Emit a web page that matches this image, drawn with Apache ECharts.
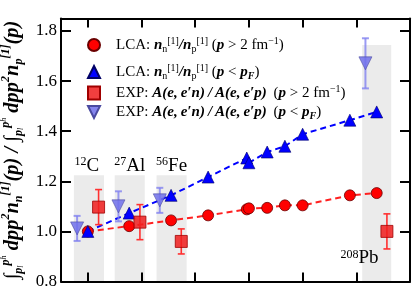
<!DOCTYPE html>
<html><head><meta charset="utf-8">
<script src="https://cdn.jsdelivr.net/npm/echarts@6/dist/echarts.min.js"></script>
<style>html,body{margin:0;padding:0;background:#fff}#c{width:419px;height:292px}</style>
</head><body><div id="c"></div>
<script>
// ---- data (x = N/Z) ----
const lcaNZ   = [1.000, 1.077, 1.155, 1.224, 1.296, 1.300, 1.334, 1.367, 1.400, 1.488, 1.538];
const lcaHigh = [1.000, 1.021, 1.044, 1.064, 1.088, 1.092, 1.094, 1.104, 1.104, 1.144, 1.153];
const lcaLow  = [1.000, 1.073, 1.144, 1.217, 1.293, 1.274, 1.317, 1.340, 1.388, 1.444, 1.477];

const expNZ      = [1.000, 1.077, 1.154, 1.537];
const expHigh    = [1.097, 1.037, 0.960, 1.000];
const expHighErr = [0.070, 0.070, 0.050, 0.070];
const expLow     = [1.012, 1.100, 1.124, 1.671];
const expLowErr  = [0.050, 0.060, 0.050, 0.100];
const expShift = 0.02;

const bandLow  = [0.974, 1.050, 1.128, 1.511];
const bandHigh = [1.030, 1.106, 1.184, 1.565];
const bandTop  = [1.224, 1.224, 1.224, 1.744];

const nucMass = ['12', '27', '56', '208'];
const nucSym  = ['C', 'Al', 'Fe', 'Pb'];
const nucLabX = [0.998, 1.078, 1.156, 1.506];
const nucLabY = [1.262, 1.262, 1.262, 0.892];

const xTicks = [1.0, 1.1, 1.2, 1.3, 1.4, 1.5];
const yTicks = [0.8, 1.0, 1.2, 1.4, 1.6, 1.8];

// ---- styles ----
const SERIF = '"Liberation Serif", "DejaVu Serif", serif';
const FS = 15;
const legRich = {
  g:  {width: 11},
  r:  {fontFamily: SERIF, fontSize: FS, color: '#000', lineHeight: 18},
  m:  {fontFamily: SERIF, fontSize: FS, fontStyle: 'italic', fontWeight: 'bold', color: '#000', lineHeight: 18},
  sp: {fontFamily: SERIF, fontSize: 10, color: '#000', verticalAlign: 'top', lineHeight: 10},
  sb: {fontFamily: SERIF, fontSize: 10, color: '#000', verticalAlign: 'bottom', lineHeight: 10},
  sbi:{fontFamily: SERIF, fontSize: 10, fontStyle: 'italic', fontWeight: 'bold', color: '#000', verticalAlign: 'bottom', lineHeight: 10}
};
const T = '\u2009';
const expMath = 'A(e,' + T + 'e′n)' + T + '/' + T + 'A(e,' + T + 'e′p)';
const legText = {
  L1: '{g|}{r|LCA: }{m|n}{sb|n}{sp|[1]}{m|/n}{sb|p}{sp|[1]}{r| (}{m|p}{r| > 2 fm}{sp|−1}{r|)}',
  L2: '{g|}{r|LCA: }{m|n}{sb|n}{sp|[1]}{m|/n}{sb|p}{sp|[1]}{r| (}{m|p}{r| < }{m|p}{sbi|F}{r|)}',
  L3: '{g|}{r|EXP: }{m|' + expMath + '}{r|' + T + ' (}{m|p}{r| > 2 fm}{sp|−1}{r|)}',
  L4: '{g|}{r|EXP: }{m|' + expMath + '}{r|' + T + ' (}{m|p}{r| < }{m|p}{sbi|F}{r|)}'
};

function errBar(color, width, cap) {
  return function (params, api) {
    const x = api.value(0), y = api.value(1), e = api.value(2);
    const a = api.coord([x, y + e]), b = api.coord([x, y - e]);
    const st = {stroke: color, lineWidth: width};
    return {type: 'group', children: [
      {type: 'line', shape: {x1: a[0], y1: a[1], x2: b[0], y2: b[1]}, style: st},
      {type: 'line', shape: {x1: a[0] - cap, y1: a[1], x2: a[0] + cap, y2: a[1]}, style: st},
      {type: 'line', shape: {x1: b[0] - cap, y1: b[1], x2: b[0] + cap, y2: b[1]}, style: st}
    ]};
  };
}

const chart = echarts.init(document.getElementById('c'), null, {renderer: 'canvas'});
const axisLine = {show: true, lineStyle: {color: '#000', width: 2}};
const opt = {
  animation: false,
  backgroundColor: '#fff',
  grid: {left: 61, right: 9, top: 18.5, bottom: 10.5, containLabel: false, outerBoundsMode: 'none'},
  xAxis: [
    {type: 'value', min: 0.95, max: 1.6, position: 'bottom', axisLine,
     axisTick: {inside: true, length: 9, lineStyle: {color: '#000', width: 2}, customValues: xTicks},
     axisLabel: {show: true, customValues: xTicks, margin: 11, fontFamily: SERIF, fontSize: 17, color: '#c8c8c8',
                 formatter: v => v.toFixed(1)},
     splitLine: {show: false}},
    {type: 'value', min: 0.95, max: 1.6, position: 'top', axisLine,
     axisTick: {inside: true, length: 9, lineStyle: {color: '#000', width: 2}, customValues: xTicks},
     axisLabel: {show: false}, splitLine: {show: false}}
  ],
  yAxis: [
    {type: 'value', min: 0.8, max: 1.85, position: 'left', axisLine,
     axisTick: {inside: true, length: 10, lineStyle: {color: '#000', width: 2}, customValues: yTicks},
     axisLabel: {customValues: yTicks, margin: 4, fontFamily: SERIF, fontSize: 17, color: '#000',
                 formatter: v => v.toFixed(1)},
     splitLine: {show: false},
     name: '{m|∫}{sb|p}{sbs|l}{sp|p}{sps|h}{m| dpp}{sp|2}{m|n}{sb|n}{sp|[1]}{m|(p) / ∫}{sb|p}{sbs|l}{sp|p}{sps|h}{m| dpp}{sp|2}{m|n}{sb|p}{sp|[1]}{m|(p)}',
     nameLocation: 'middle', nameRotate: 90, nameGap: 35,
     nameTextStyle: {rich: {
       m:  {fontFamily: SERIF, fontSize: 20.5, fontStyle: 'italic', fontWeight: 'bold', color: '#000', lineHeight: 25},
       sp: {fontFamily: SERIF, fontSize: 12, fontStyle: 'italic', fontWeight: 'bold', color: '#000', verticalAlign: 'top', lineHeight: 12},
       sb: {fontFamily: SERIF, fontSize: 12, fontStyle: 'italic', fontWeight: 'bold', color: '#000', verticalAlign: 'bottom', lineHeight: 12},
       sps:{fontFamily: SERIF, fontSize: 8, fontStyle: 'italic', color: '#000', verticalAlign: 'top', lineHeight: 14},
       sbs:{fontFamily: SERIF, fontSize: 8, fontStyle: 'italic', color: '#000', verticalAlign: 'bottom', lineHeight: 8}
     }}},
    {type: 'value', min: 0.8, max: 1.85, position: 'right', axisLine,
     axisTick: {inside: true, length: 10, lineStyle: {color: '#000', width: 2}, customValues: yTicks},
     axisLabel: {show: false}, splitLine: {show: false}}
  ],
  legend: [
    {orient: 'vertical', left: 82, top: 31, itemWidth: 12, itemHeight: 12, itemGap: 9,
     data: [{name: 'L1', icon: 'circle'}, {name: 'L2', icon: 'triangle'}],
     formatter: n => legText[n], textStyle: {rich: legRich}, selectedMode: false},
    {orient: 'vertical', left: 82, top: 79, itemWidth: 12, itemHeight: 13, itemGap: 4,
     data: [{name: 'L3', icon: 'rect'}, {name: 'L4', icon: 'path://M0,0L10,0L5,10Z'}],
     formatter: n => legText[n], textStyle: {rich: legRich}, selectedMode: false}
  ],
  series: [
    {type: 'custom', z: 0, silent: true,
     data: bandLow.map((lo, i) => [lo, bandHigh[i], bandTop[i]]),
     renderItem: (params, api) => {
       const a = api.coord([api.value(0), api.value(2)]);
       const b = api.coord([api.value(1), 0.8]);
       return {type: 'rect', shape: {x: a[0], y: a[1], width: b[0] - a[0], height: b[1] - a[1]},
               style: {fill: '#ebebeb'}};
     }},
    {name: 'L1', type: 'line', z: 3, data: lcaNZ.map((x, i) => [x, lcaHigh[i]]),
     symbol: 'circle', symbolSize: 11, showAllSymbol: true,
     itemStyle: {color: '#ff0000', borderColor: '#6a0000', borderWidth: 0.8, opacity: 1},
     lineStyle: {color: '#ff2020', width: 2, type: [6, 4]}},
    {name: 'L2', type: 'line', z: 3, data: lcaNZ.map((x, i) => [x, lcaLow[i]]),
     symbol: 'triangle', symbolSize: 12, showAllSymbol: true,
     itemStyle: {color: '#0000ff', borderColor: '#000066', borderWidth: 0.6, opacity: 1},
     lineStyle: {color: '#0000ff', width: 2, type: [6, 4]}},
    {type: 'custom', z: 4, silent: true,
     data: expNZ.map((x, i) => [x + expShift, expHigh[i], expHighErr[i]]),
     renderItem: errBar('#ff3030', 1.6, 3.5)},
    {name: 'L3', type: 'scatter', z: 5, data: expNZ.map((x, i) => [x + expShift, expHigh[i]]),
     symbol: 'rect', symbolSize: 12,
     itemStyle: {color: 'rgba(240,32,32,0.86)', borderColor: '#a00000', borderWidth: 0.8, opacity: 1}},
    {type: 'custom', z: 4, silent: true,
     data: expNZ.map((x, i) => [x - expShift, expLow[i], expLowErr[i]]),
     renderItem: errBar('rgba(130,130,240,0.8)', 2, 3.5)},
    {name: 'L4', type: 'scatter', z: 5, data: expNZ.map((x, i) => [x - expShift, expLow[i]]),
     symbol: 'triangle', symbolRotate: 180, symbolSize: 13,
     itemStyle: {color: 'rgba(112,112,235,0.85)', borderColor: '#4a4aa0', borderWidth: 0.6, opacity: 1}},
    {type: 'scatter', z: 6, silent: true, symbolSize: 0, itemStyle: {opacity: 1},
     data: nucLabX.map((x, i) => ({value: [x, nucLabY[i]], m: nucMass[i], s: nucSym[i]})),
     label: {show: true, position: 'inside', color: '#000', textBorderWidth: 0, opacity: 1,
       formatter: p => '{sp|' + p.data.m + '}{b|' + p.data.s + '}',
       rich: {
         b:  {fontFamily: SERIF, fontSize: 19, color: '#000', lineHeight: 20, textBorderWidth: 0},
         sp: {fontFamily: SERIF, fontSize: 12, color: '#000', verticalAlign: 'top', lineHeight: 12, textBorderWidth: 0}
       }}}
  ]
};
chart.setOption(opt);
</script></body></html>
